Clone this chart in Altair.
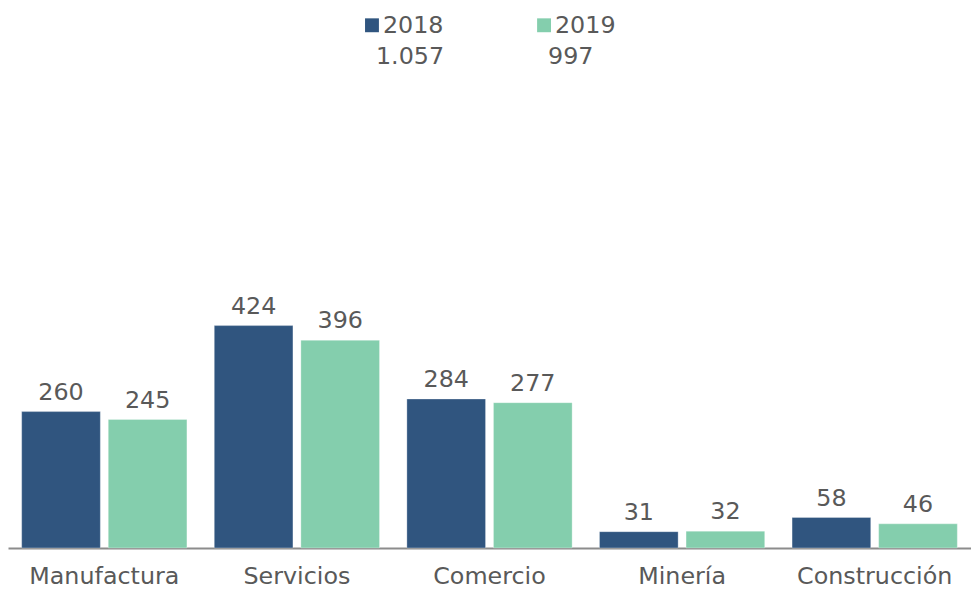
import altair as alt
import pandas as pd

categories = ["Manufactura", "Servicios", "Comercio", "Minería", "Construcción"]
years = ["2018", "2019"]
values_2018 = [260, 424, 284, 31, 58]
values_2019 = [245, 396, 277, 32, 46]
totals = ["1.057", "997"]
colors = ["#30557F", "#84CEAD"]

rows = []
for c, a, b in zip(categories, values_2018, values_2019):
    rows.append({"cat": c, "year": years[0], "value": a})
    rows.append({"cat": c, "year": years[1], "value": b})
df = pd.DataFrame(rows)

FONT = "DejaVu Sans"
GRAY = "#595959"

x = alt.X("cat:N", sort=categories, title=None,
          scale=alt.Scale(paddingInner=0, paddingOuter=0),
          axis=alt.Axis(labelAngle=0, labelFontSize=24, labelFont=FONT, labelColor=GRAY,
                        labelBaseline="alphabetic", labelPadding=36, ticks=False,
                        domainColor="#8c8c8c", domainWidth=2))
xo = alt.XOffset("year:N", sort=years, scale=alt.Scale(paddingInner=0.0916, paddingOuter=0.158))
y = alt.Y("value:Q", title=None, scale=alt.Scale(domain=[0, 1025], nice=False), axis=None)
color = alt.Color("year:N", sort=years, scale=alt.Scale(domain=years, range=colors), legend=None)

base = alt.Chart(df)
bars = base.mark_bar(stroke="white", strokeWidth=0.5, strokeOpacity=0.6).encode(x=x, xOffset=xo, y=y, color=color)
labels = base.mark_text(font=FONT, fontSize=24, color=GRAY, baseline="alphabetic", dy=-12).encode(
    x=x, xOffset=xo, y=y, text=alt.Text("value:Q"))

leg_pos = [367, 540.5]
leg_layers = []
for i, (yr, tot) in enumerate(zip(years, totals)):
    d = pd.DataFrame({"year": [yr], "total": [tot]})
    cx = leg_pos[i]
    sq = alt.Chart(d).mark_square(size=196, color=colors[i], opacity=1).encode(
        x=alt.value(cx), y=alt.value(15))
    t1 = alt.Chart(d).mark_text(font=FONT, fontSize=24, color=GRAY, align="left", baseline="alphabetic").encode(
        x=alt.value(cx + 11), y=alt.value(23), text="year:N")
    t2 = alt.Chart(d).mark_text(font=FONT, fontSize=24, color=GRAY, align="left", baseline="alphabetic").encode(
        x=alt.value(cx + 4), y=alt.value(54), text="total:N")
    leg_layers += [sq, t1, t2]

chart = alt.layer(bars, labels, *leg_layers).properties(
    width=971, height=542,
    background="white",
    autosize=alt.AutoSizeParams(type="none"),
    padding={"left": 0, "top": 0, "right": 0, "bottom": 42},
).configure_view(strokeWidth=0, stroke=None)

chart.save("out.html", embed_options={"renderer": "svg", "actions": False})
